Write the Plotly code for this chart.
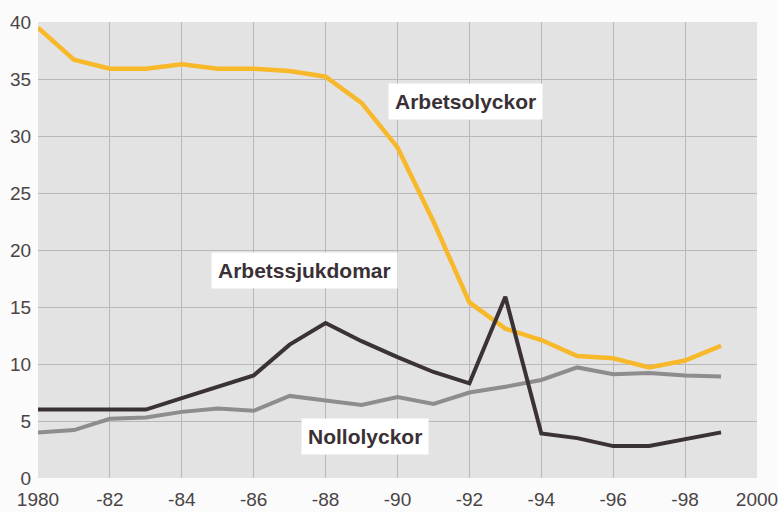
import plotly.graph_objects as go

years = list(range(1980, 2000))
arbetsolyckor = [39.5, 36.7, 35.9, 35.9, 36.3, 35.9, 35.9, 35.7, 35.2, 32.9,
                 29.0, 22.5, 15.4, 13.1, 12.1, 10.7, 10.5, 9.7, 10.3, 11.6]
arbetssjukdomar = [6.0, 6.0, 6.0, 6.0, 7.0, 8.0, 9.0, 11.7, 13.6, 12.0,
                   10.6, 9.3, 8.3, 15.9, 3.9, 3.5, 2.8, 2.8, 3.4, 4.0]
nollolyckor = [4.0, 4.2, 5.2, 5.3, 5.8, 6.1, 5.9, 7.2, 6.8, 6.4,
               7.1, 6.5, 7.5, 8.0, 8.6, 9.7, 9.1, 9.2, 9.0, 8.9]

x_tickvals = [1980, 1982, 1984, 1986, 1988, 1990, 1992, 1994, 1996, 1998, 2000]
x_ticktext = ["1980", "-82", "-84", "-86", "-88", "-90", "-92", "-94", "-96", "-98", "2000"]
y_tickvals = [0, 5, 10, 15, 20, 25, 30, 35, 40]

labels = ["Arbetsolyckor", "Arbetssjukdomar", "Nollolyckor"]
label_x = [1991.9, 1987.4, 1989.1]
label_y = [33.0, 18.2, 3.6]

fig = go.Figure()
fig.add_trace(go.Scatter(x=years, y=nollolyckor, mode="lines",
                         line=dict(color="#8e8c8d", width=4)))
fig.add_trace(go.Scatter(x=years, y=arbetsolyckor, mode="lines",
                         line=dict(color="#f7b829", width=4.5)))
fig.add_trace(go.Scatter(x=years, y=arbetssjukdomar, mode="lines",
                         line=dict(color="#3a3235", width=4)))

for t, lx, ly in zip(labels, label_x, label_y):
    fig.add_annotation(x=lx, y=ly, text="<b>" + t + "</b>", showarrow=False,
                       font=dict(family="Liberation Sans, Arial", size=21, color="#3a3035"),
                       bgcolor="white", borderpad=6)

fig.update_layout(
    width=778, height=512,
    margin=dict(l=38, r=21, t=22, b=34),
    paper_bgcolor="#fbfbfb",
    plot_bgcolor="#e4e3e3",
    showlegend=False,
    font=dict(family="Liberation Sans, Arial", size=19, color="#4a4446"),
)
fig.update_xaxes(range=[1980, 2000], tickvals=x_tickvals, ticktext=x_ticktext,
                 showgrid=True, gridcolor="#b9b7b8", gridwidth=1.2,
                 zeroline=False, showline=False, ticks="outside", ticklen=4,
                 tickcolor="rgba(0,0,0,0)", automargin=False,
                 ticklabeloverflow="allow")
fig.update_yaxes(range=[0, 40], tickvals=y_tickvals,
                 showgrid=True, gridcolor="#b9b7b8", gridwidth=1.2,
                 zeroline=False, showline=False, ticks="outside", ticklen=2,
                 tickcolor="rgba(0,0,0,0)", automargin=False,
                 ticklabeloverflow="allow")

fig.write_html("out.html", config={"displayModeBar": False},
               post_script="document.body.style.margin='0';document.body.style.overflow='hidden';")
